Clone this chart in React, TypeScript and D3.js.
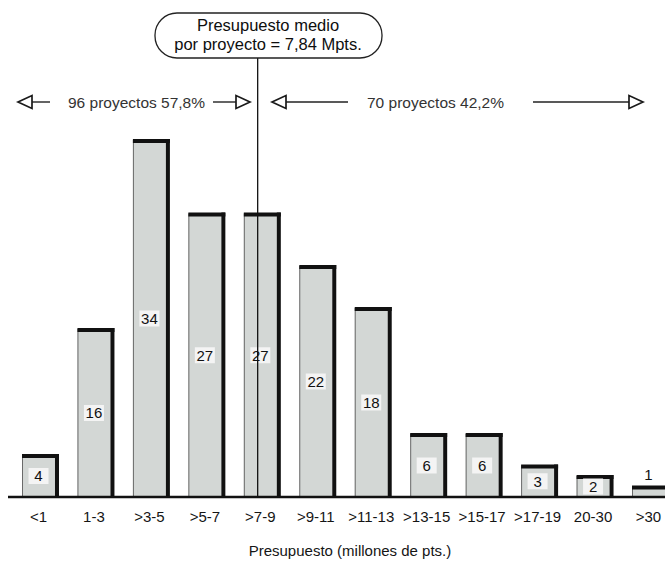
import React from "react";
import * as d3 from "d3";

// Budget bins (millions of pesetas) and number of projects in each
const categories = ["<1", "1-3", ">3-5", ">5-7", ">7-9", ">9-11", ">11-13", ">13-15", ">15-17", ">17-19", "20-30", ">30"];
const counts = [4, 16, 34, 27, 27, 22, 18, 6, 6, 3, 2, 1];

// Mean budget and the bin that contains it
const meanBudget = 7.84;
const meanBin = ">7-9";
const meanBinEdges = [7, 9];

const titleLines = ["Presupuesto medio", "por proyecto = 7,84 Mpts."];
const leftNote = "96 proyectos 57,8%";
const rightNote = "70 proyectos 42,2%";
const xTitle = "Presupuesto (millones de pts.)";

const W = 665;
const H = 563;
const baseY = 497;
const topY = 140;
const shadow = 4;
const FONT = "'Liberation Sans', Arial, Helvetica, sans-serif";

const x = d3.scaleBand<string>().domain(categories).range([22, 669]).paddingInner(0.333).paddingOuter(0);
const y = d3.scaleLinear().domain([0, d3.max(counts) as number]).range([baseY, topY]);

function Arrow({ x1, x2, yy, head }: { x1: number; x2: number; yy: number; head: "start" | "end" }) {
  // shaft plus an open triangular head
  const len = 14;
  const half = 6.5;
  const tip = head === "start" ? x1 : x2;
  const base = head === "start" ? x1 + len : x2 - len;
  const shaftA = head === "start" ? base : x1;
  const shaftB = head === "start" ? x2 : base;
  return (
    <g>
      <line x1={shaftA} x2={shaftB} y1={yy} y2={yy} stroke="#222" strokeWidth={1.4} />
      <path d={`M${tip},${yy} L${base},${yy - half} L${base},${yy + half} Z`} fill="#fff" stroke="#1a1a1a" strokeWidth={1.7} strokeLinejoin="miter" />
    </g>
  );
}

export default function App() {
  const bw = x.bandwidth();
  const face = bw - shadow;
  const meanX = (x(meanBin) as number) + ((meanBudget - meanBinEdges[0]) / (meanBinEdges[1] - meanBinEdges[0])) * face;
  const arrowY = 102;

  return (
    <div style={{ position: "absolute", left: 0, top: 0 }}>
      <svg width={W} height={H} style={{ display: "block", background: "#fff" }} fontFamily={FONT}>
        {/* bars: grey face with heavy black top and right edges */}
        {categories.map((c, i) => {
          const x0 = x(c) as number;
          const yt = y(counts[i]);
          const h = baseY - yt;
          const cx = x0 + face / 2;
          const inside = h > 20;
          const ly = inside ? (yt + baseY) / 2 : yt - 12;
          return (
            <g key={c}>
              <rect x={x0} y={yt} width={face} height={h} fill="#d3d7d5" />
              <line x1={x0 + 0.5} x2={x0 + 0.5} y1={yt} y2={baseY} stroke="#6a6a6a" strokeWidth={1} />
              <rect x={x0} y={yt - 1} width={bw} height={shadow} fill="#111" />
              <rect x={x0 + face} y={yt - 1} width={shadow} height={h + 1} fill="#111" />
              {inside && <rect x={cx - 10} y={ly - 8} width={20} height={16} fill="#f4f4f4" />}
              <text x={cx} y={ly} dy="0.36em" textAnchor="middle" fontSize={15} fill="#111">
                {counts[i]}
              </text>
              <text x={cx} y={517} dy="0.36em" textAnchor="middle" fontSize={15} fill="#151515">
                {c}
              </text>
            </g>
          );
        })}

        {/* baseline */}
        <line x1={8} x2={W} y1={baseY} y2={baseY} stroke="#111" strokeWidth={2.7} />

        {/* mean marker */}
        <line x1={meanX} x2={meanX} y1={58} y2={baseY} stroke="#111" strokeWidth={1.3} />
        <rect x={155} y={13} width={227} height={45} rx={22} ry={22} fill="#fff" stroke="#222" strokeWidth={1.3} />
        {titleLines.map((t, i) => (
          <text key={t} x={268} y={25 + i * 19} dy="0.36em" textAnchor="middle" fontSize={16.5} fill="#0e0e0e">
            {t}
          </text>
        ))}

        {/* share of projects on each side of the mean */}
        <Arrow x1={18} x2={50} yy={arrowY} head="start" />
        <text x={68} y={arrowY} dy="0.36em" fontSize={15.5} fill="#333">
          {leftNote}
        </text>
        <Arrow x1={213} x2={250} yy={arrowY} head="end" />
        <Arrow x1={272} x2={348} yy={arrowY} head="start" />
        <text x={367} y={arrowY} dy="0.36em" fontSize={15.5} fill="#333">
          {rightNote}
        </text>
        <Arrow x1={533} x2={643} yy={arrowY} head="end" />

        {/* axis title */}
        <text x={350} y={551} dy="0.36em" textAnchor="middle" fontSize={15} fill="#151515">
          {xTitle}
        </text>
      </svg>
    </div>
  );
}
